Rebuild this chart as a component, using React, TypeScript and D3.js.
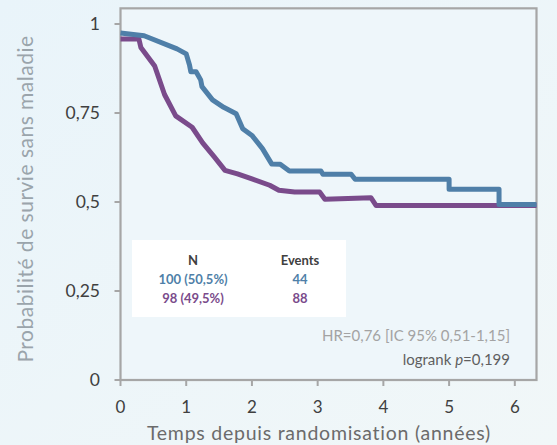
import * as d3 from "d3";

// Kaplan-Meier curves: [years, survival]
const blueCurve: [number, number][] = [
  [0, 0.975], [0.36, 0.967], [0.86, 0.93], [1.0, 0.916], [1.05, 0.885], [1.07, 0.866],
  [1.15, 0.866], [1.22, 0.843], [1.24, 0.824], [1.4, 0.787], [1.57, 0.766], [1.76, 0.748],
  [1.86, 0.706], [2.0, 0.687], [2.16, 0.65], [2.3, 0.607], [2.43, 0.606], [2.57, 0.587],
  [3.05, 0.587], [3.08, 0.578], [3.51, 0.578], [3.57, 0.564], [5.0, 0.564], [5.0, 0.536],
  [5.76, 0.536], [5.76, 0.493], [6.33, 0.493],
];
const purpleCurve: [number, number][] = [
  [0, 0.958], [0.28, 0.958], [0.31, 0.934], [0.52, 0.882], [0.67, 0.802], [0.84, 0.742],
  [1.09, 0.71], [1.25, 0.666], [1.43, 0.626], [1.59, 0.589], [1.78, 0.579], [2.0, 0.565],
  [2.27, 0.547], [2.41, 0.533], [2.65, 0.528], [3.03, 0.528], [3.11, 0.508], [3.81, 0.512],
  [3.89, 0.49], [6.33, 0.49],
];

const xTicks = [0, 1, 2, 3, 4, 5, 6];
const yTicks = [0, 0.25, 0.5, 0.75, 1];
const yTickLabels = ["0", "0,25", "0,5", "0,75", "1"];

const groupN = ["100 (50,5%)", "98 (49,5%)"];
const groupEvents = ["44", "88"];
const groupColors = ["#4f7fa8", "#7a4b8b"];

const WIDTH = 557;
const HEIGHT = 445;
const FONT = "Lato, 'Open Sans', sans-serif";

export default function App() {
  const x = d3.scaleLinear().domain([0, 6.33]).range([120.5, 536.5]);
  const y = d3.scaleLinear().domain([0, 1]).range([380, 24]);
  const yTop = y(1.044);

  const line = d3
    .line<[number, number]>()
    .x((d) => x(d[0]))
    .y((d) => y(d[1]));

  return (
    <svg
      width={WIDTH}
      height={HEIGHT}
      style={{ position: "absolute", left: 0, top: 0, fontFamily: FONT }}
    >
      <defs>
        <linearGradient id="bg" x1="0" y1="0" x2="1" y2="1">
          <stop offset="0%" stopColor="#e9f4fa" />
          <stop offset="100%" stopColor="#f1f7f8" />
        </linearGradient>
      </defs>
      <rect width={WIDTH} height={HEIGHT} fill="url(#bg)" />
      <rect
        x={x(0)}
        y={yTop}
        width={x(6.33) - x(0)}
        height={y(0) - yTop}
        fill="#eef6fa"
        stroke="#a6a6a6"
        strokeWidth={2.2}
      />

      {/* y axis */}
      {yTicks.map((t, i) => (
        <g key={t}>
          <line x1={x(0) - 6} x2={x(0)} y1={y(t)} y2={y(t)} stroke="#a6a6a6" strokeWidth={2} />
          <text
            x={100}
            y={y(t)}
            dy="0.35em"
            textAnchor="end"
            fontSize={17.5}
            fill="#404040"
          >
            {yTickLabels[i]}
          </text>
        </g>
      ))}

      {/* x axis */}
      {xTicks.map((t) => (
        <g key={t}>
          <line x1={x(t)} x2={x(t)} y1={y(0)} y2={y(0) + 6} stroke="#a6a6a6" strokeWidth={2} />
          <text x={x(t)} y={413} textAnchor="middle" fontSize={17} fill="#404040">
            {t}
          </text>
        </g>
      ))}

      <text
        x={319}
        y={440}
        textAnchor="middle"
        fontSize={19.5}
        letterSpacing={0.75}
        fill="#6b6b6b"
      >
        Temps depuis randomisation (années)
      </text>
      <text
        transform="translate(33,199) rotate(-90)"
        textAnchor="middle"
        fontSize={21}
        letterSpacing={0.5}
        fill="#9aa4ab"
      >
        Probabilité de survie sans maladie
      </text>

      {/* curves */}
      <path d={line(purpleCurve) ?? ""} fill="none" stroke={groupColors[1]} strokeWidth={5} strokeLinejoin="round" />
      <path d={line(blueCurve) ?? ""} fill="none" stroke={groupColors[0]} strokeWidth={5} strokeLinejoin="round" />

      {/* legend table */}
      <rect x={132} y={240} width={214} height={77} fill="#ffffff" />
      <g fontWeight="bold" fontSize={13} textAnchor="middle">
        <text x={193} y={265} fill="#404040">N</text>
        <text x={300} y={265} fill="#404040">Events</text>
        {groupN.map((n, i) => (
          <g key={n}>
            <text x={193} y={284 + i * 19} fill={groupColors[i]}>{n}</text>
            <text x={300} y={284 + i * 19} fill={groupColors[i]}>{groupEvents[i]}</text>
          </g>
        ))}
      </g>

      <text x={510} y={341} textAnchor="end" fontSize={15} fill="#a3a3a3">
        HR=0,76 [IC 95% 0,51-1,15]
      </text>
      <text x={510} y={365} textAnchor="end" fontSize={15} fill="#5f5f5f">
        logrank <tspan fontStyle="italic">p</tspan>=0,199
      </text>
    </svg>
  );
}
